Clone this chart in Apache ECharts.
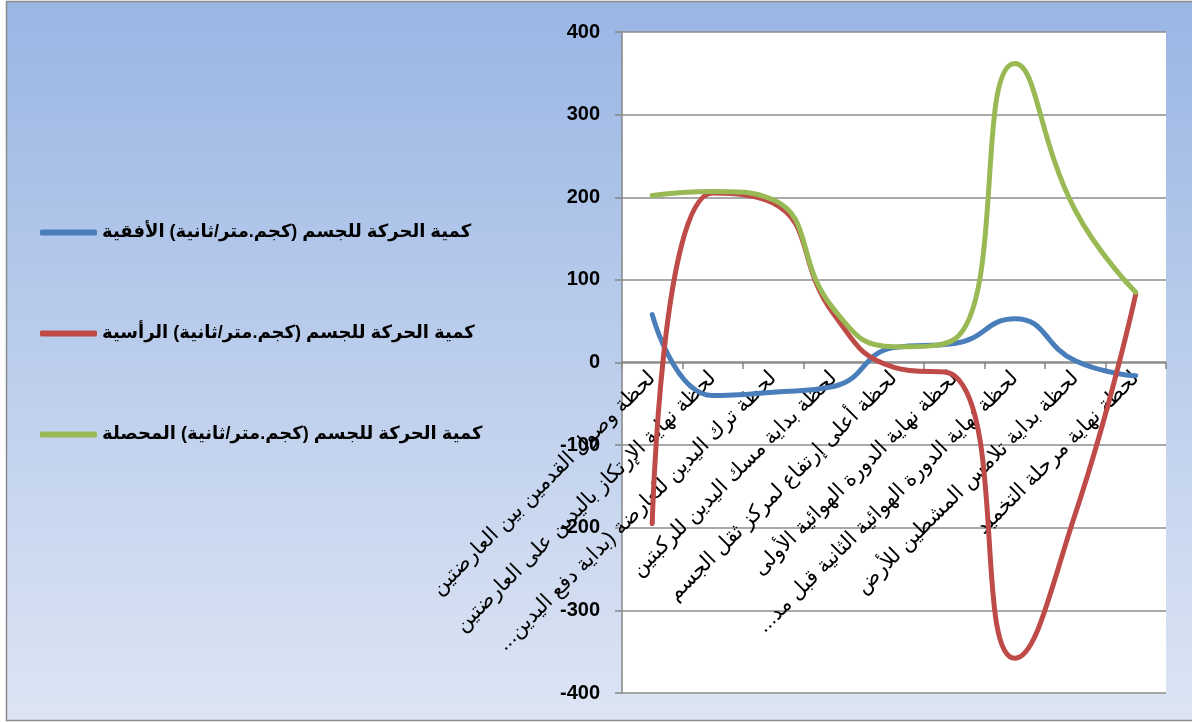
<!DOCTYPE html>
<html>
<head>
<meta charset="utf-8">
<script src="https://cdn.jsdelivr.net/npm/echarts@6/dist/echarts.min.js"></script>
<style>
html,body{margin:0;padding:0;background:#fff;}
#chart{width:1192px;height:722px;}
</style>
</head>
<body>
<div id="chart"></div>
<script>
const categories = [
  "لحظة وصول القدمين بين العارضتين",
  "لحظة نهاية الإرتكاز باليدين على العارضتين",
  "لحظة ترك اليدين للعارضة (بداية دفع اليدين...",
  "لحظة بداية مسك اليدين للركبتين",
  "لحظة أعلى إرتفاع لمركز ثقل الجسم",
  "لحظة نهاية الدورة الهوائية الأولى",
  "لحظة نهاية الدورة الهوائية الثانية قبل مد...",
  "لحظة بداية تلامس المشطين للأرض",
  "لحظة نهاية مرحلة التخميد"
];
const seriesNames = [
  "كمية الحركة للجسم (كجم.متر/ثانية) الأفقية",
  "كمية الحركة للجسم (كجم.متر/ثانية) الرأسية",
  "كمية الحركة للجسم (كجم.متر/ثانية) المحصلة"
];
const horizontal = [58, -40, -36, -29, 18, 23, 53, 2, -16];
const vertical = [-195, 205, 193, 59, -6, -16, -358, -183, 83];
const resultant = [202, 207, 197, 65, 19, 28, 362, 184, 85];
const yTicks = { min: -400, max: 400, interval: 100 };

const colors = ['#4A7EBB', '#BE4B48', '#98B954'];
const font = 'Arial, "Liberation Sans", "DejaVu Sans", sans-serif';
const RLM = '\u200F';

const chart = echarts.init(document.getElementById('chart'));
chart.setOption({
  animation: false,
  backgroundColor: '#ffffff',
  color: colors,
  graphic: [{
    type: 'rect',
    z: -10,
    silent: true,
    shape: { x: 6.5, y: 1.5, width: 1190, height: 719 },
    style: {
      fill: new echarts.graphic.LinearGradient(0, 0, 0, 1, [
        { offset: 0, color: '#9AB6E4' },
        { offset: 1, color: '#DDE5F4' }
      ]),
      stroke: '#8a8a8a',
      lineWidth: 1.5
    }
  }],
  legend: {
    orient: 'vertical',
    left: 35,
    top: 217,
    itemWidth: 57,
    itemHeight: 6,
    itemGap: 80,
    icon: 'roundRect',
    textStyle: { fontFamily: font, fontSize: 18, fontWeight: 'bold', color: '#000', lineHeight: 21 },
    data: seriesNames
  },
  grid: { left: 622, right: 26, top: 32, bottom: 29, show: true, backgroundColor: '#ffffff', borderWidth: 0, containLabel: false, outerBoundsMode: 'none' },
  xAxis: {
    type: 'category',
    data: categories,
    position: 'bottom',
    offset: -331,
    boundaryGap: true,
    axisLine: { onZero: false, lineStyle: { color: '#868686', width: 1.5 } },
    axisTick: { show: true, interval: 0, length: 7, lineStyle: { color: '#868686', width: 1.5 } },
    axisLabel: {
      interval: 0, rotate: 45, margin: 13, fontFamily: font, fontSize: 21, color: '#000',
      hideOverlap: false,
      formatter: function (v) { return v + RLM; }
    },
    splitLine: { show: false }
  },
  yAxis: {
    type: 'value',
    min: yTicks.min,
    max: yTicks.max,
    interval: yTicks.interval,
    axisLine: { show: true, lineStyle: { color: '#868686', width: 1.5 } },
    axisTick: { show: true, length: 7, lineStyle: { color: '#868686', width: 1.5 } },
    axisLabel: { margin: 22, fontFamily: font, fontSize: 20, fontWeight: 'bold', color: '#000' },
    splitLine: { show: true, lineStyle: { color: '#8c8c8c', width: 1.5 } }
  },
  series: [
    { name: seriesNames[0], type: 'line', data: horizontal, smooth: 0.5, symbol: 'none', lineStyle: { width: 5, color: colors[0], cap: 'round' }, z: 3 },
    { name: seriesNames[1], type: 'line', data: vertical, smooth: 0.5, symbol: 'none', lineStyle: { width: 5, color: colors[1], cap: 'round' }, z: 4 },
    { name: seriesNames[2], type: 'line', data: resultant, smooth: 0.5, symbol: 'none', lineStyle: { width: 5, color: colors[2], cap: 'round' }, z: 5 }
  ]
});
</script>
</body>
</html>
